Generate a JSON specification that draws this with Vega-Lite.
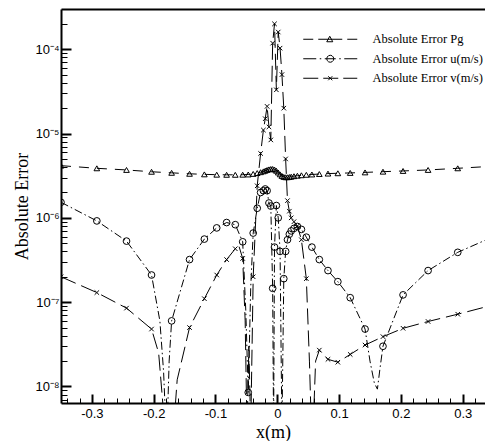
{
  "$schema": "https://vega.github.io/schema/vega-lite/v6.json",
  "width": 424,
  "height": 394,
  "autosize": {"type": "none"},
  "padding": {"left": 61, "top": 9, "right": 0, "bottom": 38},
  "background": "white",
  "config": {
    "view": {"stroke": null},
    "axis": {
      "domainColor": "black", "domainWidth": 2, "tickColor": "black",
      "labelColor": "black", "titleColor": "black", "grid": false,
      "labelFont": "Liberation Sans", "labelFontSize": 13,
      "titleFont": "Liberation Serif", "titleFontSize": 18, "titleFontWeight": "normal"
    }
  },
  "data": {"values": [
    {"s":"Pg","x":-0.35,"y":4.16e-6,"m":1},
    {"s":"Pg","x":-0.292,"y":3.87e-6,"m":1},
    {"s":"Pg","x":-0.244,"y":3.70e-6,"m":1},
    {"s":"Pg","x":-0.2035,"y":3.52e-6,"m":1},
    {"s":"Pg","x":-0.171,"y":3.42e-6,"m":1},
    {"s":"Pg","x":-0.142,"y":3.33e-6,"m":1},
    {"s":"Pg","x":-0.118,"y":3.28e-6,"m":1},
    {"s":"Pg","x":-0.098,"y":3.25e-6,"m":1},
    {"s":"Pg","x":-0.082,"y":3.24e-6,"m":1},
    {"s":"Pg","x":-0.068,"y":3.24e-6,"m":1},
    {"s":"Pg","x":-0.056,"y":3.25e-6,"m":1},
    {"s":"Pg","x":-0.047,"y":3.27e-6,"m":1},
    {"s":"Pg","x":-0.039,"y":3.32e-6,"m":1},
    {"s":"Pg","x":-0.0325,"y":3.40e-6,"m":1},
    {"s":"Pg","x":-0.027,"y":3.48e-6,"m":1},
    {"s":"Pg","x":-0.0225,"y":3.56e-6,"m":1},
    {"s":"Pg","x":-0.0195,"y":3.63e-6,"m":1},
    {"s":"Pg","x":-0.0165,"y":3.70e-6,"m":1},
    {"s":"Pg","x":-0.0135,"y":3.76e-6,"m":1},
    {"s":"Pg","x":-0.0105,"y":3.80e-6,"m":1},
    {"s":"Pg","x":-0.0075,"y":3.80e-6,"m":1},
    {"s":"Pg","x":-0.0045,"y":3.74e-6,"m":1},
    {"s":"Pg","x":-0.0015,"y":3.62e-6,"m":1},
    {"s":"Pg","x":0.0015,"y":3.45e-6,"m":1},
    {"s":"Pg","x":0.0045,"y":3.28e-6,"m":1},
    {"s":"Pg","x":0.0075,"y":3.14e-6,"m":1},
    {"s":"Pg","x":0.0105,"y":3.06e-6,"m":1},
    {"s":"Pg","x":0.0135,"y":3.03e-6,"m":1},
    {"s":"Pg","x":0.0165,"y":3.03e-6,"m":1},
    {"s":"Pg","x":0.0195,"y":3.05e-6,"m":1},
    {"s":"Pg","x":0.0225,"y":3.08e-6,"m":1},
    {"s":"Pg","x":0.027,"y":3.12e-6,"m":1},
    {"s":"Pg","x":0.0325,"y":3.16e-6,"m":1},
    {"s":"Pg","x":0.039,"y":3.20e-6,"m":1},
    {"s":"Pg","x":0.047,"y":3.24e-6,"m":1},
    {"s":"Pg","x":0.056,"y":3.27e-6,"m":1},
    {"s":"Pg","x":0.068,"y":3.31e-6,"m":1},
    {"s":"Pg","x":0.082,"y":3.35e-6,"m":1},
    {"s":"Pg","x":0.098,"y":3.38e-6,"m":1},
    {"s":"Pg","x":0.118,"y":3.41e-6,"m":1},
    {"s":"Pg","x":0.142,"y":3.46e-6,"m":1},
    {"s":"Pg","x":0.171,"y":3.53e-6,"m":1},
    {"s":"Pg","x":0.2035,"y":3.60e-6,"m":1},
    {"s":"Pg","x":0.244,"y":3.70e-6,"m":1},
    {"s":"Pg","x":0.292,"y":3.87e-6,"m":1},
    {"s":"Pg","x":0.35,"y":4.10e-6,"m":1},

    {"s":"u(m/s)","x":-0.35,"y":1.53e-6,"m":1},
    {"s":"u(m/s)","x":-0.292,"y":9.2e-7,"m":1},
    {"s":"u(m/s)","x":-0.244,"y":5.3e-7,"m":1},
    {"s":"u(m/s)","x":-0.2035,"y":2.1e-7,"m":1},
    {"s":"u(m/s)","x":-0.19,"y":6e-8,"m":0},
    {"s":"u(m/s)","x":-0.184,"y":1.5e-8,"m":0},
    {"s":"u(m/s)","x":-0.179,"y":2e-9,"m":0},
    {"s":"u(m/s)","x":-0.175,"y":2e-8,"m":0},
    {"s":"u(m/s)","x":-0.171,"y":6e-8,"m":1},
    {"s":"u(m/s)","x":-0.142,"y":3.2e-7,"m":1},
    {"s":"u(m/s)","x":-0.118,"y":5.6e-7,"m":1},
    {"s":"u(m/s)","x":-0.098,"y":7.6e-7,"m":1},
    {"s":"u(m/s)","x":-0.082,"y":8.8e-7,"m":1},
    {"s":"u(m/s)","x":-0.068,"y":8.3e-7,"m":1},
    {"s":"u(m/s)","x":-0.056,"y":5.2e-7,"m":1},
    {"s":"u(m/s)","x":-0.051,"y":8e-8,"m":0},
    {"s":"u(m/s)","x":-0.047,"y":8.5e-9,"m":1},
    {"s":"u(m/s)","x":-0.043,"y":1.5e-7,"m":0},
    {"s":"u(m/s)","x":-0.039,"y":6.6e-7,"m":1},
    {"s":"u(m/s)","x":-0.0325,"y":1.3e-6,"m":1},
    {"s":"u(m/s)","x":-0.027,"y":2.0e-6,"m":1},
    {"s":"u(m/s)","x":-0.0225,"y":2.1e-6,"m":1},
    {"s":"u(m/s)","x":-0.0195,"y":2.2e-6,"m":1},
    {"s":"u(m/s)","x":-0.0165,"y":2.1e-6,"m":1},
    {"s":"u(m/s)","x":-0.0135,"y":1.5e-6,"m":1},
    {"s":"u(m/s)","x":-0.0105,"y":1.38e-6,"m":1},
    {"s":"u(m/s)","x":-0.0075,"y":1.46e-7,"m":1},
    {"s":"u(m/s)","x":-0.006,"y":3e-9,"m":0},
    {"s":"u(m/s)","x":-0.0045,"y":4.5e-7,"m":1},
    {"s":"u(m/s)","x":-0.0015,"y":1.4e-6,"m":1},
    {"s":"u(m/s)","x":0.0015,"y":1.0e-6,"m":1},
    {"s":"u(m/s)","x":0.0045,"y":4e-7,"m":1},
    {"s":"u(m/s)","x":0.0075,"y":3e-9,"m":0},
    {"s":"u(m/s)","x":0.0105,"y":1.9e-7,"m":1},
    {"s":"u(m/s)","x":0.0135,"y":4e-7,"m":1},
    {"s":"u(m/s)","x":0.0165,"y":5.5e-7,"m":1},
    {"s":"u(m/s)","x":0.0195,"y":6.4e-7,"m":1},
    {"s":"u(m/s)","x":0.0225,"y":7.0e-7,"m":1},
    {"s":"u(m/s)","x":0.027,"y":7.5e-7,"m":1},
    {"s":"u(m/s)","x":0.0325,"y":7.9e-7,"m":1},
    {"s":"u(m/s)","x":0.039,"y":7.3e-7,"m":1},
    {"s":"u(m/s)","x":0.047,"y":5.9e-7,"m":1},
    {"s":"u(m/s)","x":0.056,"y":4.5e-7,"m":1},
    {"s":"u(m/s)","x":0.068,"y":3.2e-7,"m":1},
    {"s":"u(m/s)","x":0.082,"y":2.37e-7,"m":1},
    {"s":"u(m/s)","x":0.098,"y":1.75e-7,"m":1},
    {"s":"u(m/s)","x":0.118,"y":1.13e-7,"m":1},
    {"s":"u(m/s)","x":0.142,"y":4.8e-8,"m":1},
    {"s":"u(m/s)","x":0.150,"y":2e-8,"m":0},
    {"s":"u(m/s)","x":0.157,"y":1.1e-8,"m":0},
    {"s":"u(m/s)","x":0.162,"y":9.3e-9,"m":0},
    {"s":"u(m/s)","x":0.166,"y":1.6e-8,"m":0},
    {"s":"u(m/s)","x":0.171,"y":3.0e-8,"m":1},
    {"s":"u(m/s)","x":0.2035,"y":1.22e-7,"m":1},
    {"s":"u(m/s)","x":0.244,"y":2.37e-7,"m":1},
    {"s":"u(m/s)","x":0.292,"y":3.9e-7,"m":1},
    {"s":"u(m/s)","x":0.35,"y":6e-7,"m":1},

    {"s":"v(m/s)","x":-0.35,"y":2.0e-7,"m":1},
    {"s":"v(m/s)","x":-0.292,"y":1.3e-7,"m":1},
    {"s":"v(m/s)","x":-0.244,"y":8.5e-8,"m":1},
    {"s":"v(m/s)","x":-0.2035,"y":4.8e-8,"m":1},
    {"s":"v(m/s)","x":-0.192,"y":2.5e-8,"m":0},
    {"s":"v(m/s)","x":-0.185,"y":6e-9,"m":0},
    {"s":"v(m/s)","x":-0.178,"y":2e-9,"m":0},
    {"s":"v(m/s)","x":-0.168,"y":3e-9,"m":0},
    {"s":"v(m/s)","x":-0.162,"y":1.2e-8,"m":0},
    {"s":"v(m/s)","x":-0.142,"y":5.0e-8,"m":1},
    {"s":"v(m/s)","x":-0.118,"y":1.1e-7,"m":1},
    {"s":"v(m/s)","x":-0.098,"y":2.1e-7,"m":1},
    {"s":"v(m/s)","x":-0.082,"y":3.2e-7,"m":1},
    {"s":"v(m/s)","x":-0.068,"y":4.3e-7,"m":1},
    {"s":"v(m/s)","x":-0.062,"y":4.6e-7,"m":0},
    {"s":"v(m/s)","x":-0.056,"y":3.3e-7,"m":1},
    {"s":"v(m/s)","x":-0.052,"y":6e-8,"m":0},
    {"s":"v(m/s)","x":-0.049,"y":3e-9,"m":0},
    {"s":"v(m/s)","x":-0.046,"y":3e-8,"m":0},
    {"s":"v(m/s)","x":-0.043,"y":3e-9,"m":0},
    {"s":"v(m/s)","x":-0.039,"y":2e-7,"m":1},
    {"s":"v(m/s)","x":-0.0325,"y":2.4e-6,"m":1},
    {"s":"v(m/s)","x":-0.027,"y":5.8e-6,"m":1},
    {"s":"v(m/s)","x":-0.0225,"y":1.1e-5,"m":1},
    {"s":"v(m/s)","x":-0.0195,"y":1.5e-5,"m":1},
    {"s":"v(m/s)","x":-0.0165,"y":2.1e-5,"m":1},
    {"s":"v(m/s)","x":-0.0135,"y":1.2e-5,"m":1},
    {"s":"v(m/s)","x":-0.0105,"y":8.4e-6,"m":1},
    {"s":"v(m/s)","x":-0.0075,"y":1.18e-4,"m":1},
    {"s":"v(m/s)","x":-0.0045,"y":2.0e-4,"m":1},
    {"s":"v(m/s)","x":-0.0015,"y":3.3e-5,"m":1},
    {"s":"v(m/s)","x":0.0015,"y":1.6e-4,"m":1},
    {"s":"v(m/s)","x":0.0045,"y":1.03e-4,"m":1},
    {"s":"v(m/s)","x":0.0075,"y":5e-5,"m":1},
    {"s":"v(m/s)","x":0.0105,"y":2e-5,"m":1},
    {"s":"v(m/s)","x":0.0135,"y":5e-6,"m":1},
    {"s":"v(m/s)","x":0.0165,"y":1.6e-6,"m":1},
    {"s":"v(m/s)","x":0.0195,"y":1.2e-6,"m":1},
    {"s":"v(m/s)","x":0.0225,"y":1.0e-6,"m":1},
    {"s":"v(m/s)","x":0.027,"y":9e-7,"m":1},
    {"s":"v(m/s)","x":0.0325,"y":8e-7,"m":1},
    {"s":"v(m/s)","x":0.039,"y":5.5e-7,"m":1},
    {"s":"v(m/s)","x":0.047,"y":1.9e-7,"m":1},
    {"s":"v(m/s)","x":0.052,"y":2e-8,"m":0},
    {"s":"v(m/s)","x":0.056,"y":2e-9,"m":0},
    {"s":"v(m/s)","x":0.059,"y":5e-9,"m":0},
    {"s":"v(m/s)","x":0.062,"y":2e-8,"m":0},
    {"s":"v(m/s)","x":0.068,"y":2.7e-8,"m":1},
    {"s":"v(m/s)","x":0.082,"y":2.1e-8,"m":1},
    {"s":"v(m/s)","x":0.098,"y":1.94e-8,"m":1},
    {"s":"v(m/s)","x":0.118,"y":2.4e-8,"m":1},
    {"s":"v(m/s)","x":0.142,"y":3.1e-8,"m":1},
    {"s":"v(m/s)","x":0.171,"y":3.9e-8,"m":1},
    {"s":"v(m/s)","x":0.2035,"y":4.9e-8,"m":1},
    {"s":"v(m/s)","x":0.244,"y":5.9e-8,"m":1},
    {"s":"v(m/s)","x":0.292,"y":7.2e-8,"m":1},
    {"s":"v(m/s)","x":0.35,"y":9.3e-8,"m":1}
  ]},
  "resolve": {"axis": {"x": "independent"}},
  "encoding": {
    "y": {
      "field": "y", "type": "quantitative",
      "scale": {"type": "log", "domain": [6.37e-9, 3.0e-4], "nice": false},
      "axis": {
        "title": "Absolute Error",
        "values": [7e-9,8e-9,9e-9,1e-8,2e-8,3e-8,4e-8,5e-8,6e-8,7e-8,8e-8,9e-8,1e-7,2e-7,3e-7,4e-7,5e-7,6e-7,7e-7,8e-7,9e-7,1e-6,2e-6,3e-6,4e-6,5e-6,6e-6,7e-6,8e-6,9e-6,1e-5,2e-5,3e-5,4e-5,5e-5,6e-5,7e-5,8e-5,9e-5,1e-4,2e-4],
        "labelExpr": "abs(log(datum.value)/LN10 - round(log(datum.value)/LN10)) < 0.01 ? (round(log(datum.value)/LN10) == -4 ? '10⁻⁴' : round(log(datum.value)/LN10) == -5 ? '10⁻⁵' : round(log(datum.value)/LN10) == -6 ? '10⁻⁶' : round(log(datum.value)/LN10) == -7 ? '10⁻⁷' : '10⁻⁸') : ''",
        "labelOverlap": false, "labelFlush": false,
        "tickSize": {"condition": {"test": "abs(log(datum.value)/LN10 - round(log(datum.value)/LN10)) < 0.01", "value": -10}, "value": -6},
        "tickWidth": {"condition": {"test": "abs(log(datum.value)/LN10 - round(log(datum.value)/LN10)) < 0.01", "value": 2}, "value": 1},
        "labelPadding": 12,
        "titlePadding": 3
      }
    }
  },
  "layer": [
    {
      "mark": {"type": "line", "color": "black", "strokeWidth": 1, "clip": true},
      "encoding": {
        "x": {
          "field": "x", "type": "quantitative",
          "scale": {"domain": [-0.35, 0.3361], "nice": false, "zero": false},
          "axis": {
            "title": "x(m)",
            "values": [-0.34,-0.32,-0.3,-0.28,-0.26,-0.24,-0.22,-0.2,-0.18,-0.16,-0.14,-0.12,-0.1,-0.08,-0.06,-0.04,-0.02,0,0.02,0.04,0.06,0.08,0.1,0.12,0.14,0.16,0.18,0.2,0.22,0.24,0.26,0.28,0.3,0.32],
            "labelExpr": "abs(datum.value*10 - round(datum.value*10)) < 0.001 ? replace(format(datum.value, '~g'), '\u2212', '-') : ''",
            "labelOverlap": false, "labelFlush": false,
            "tickSize": {"condition": {"test": "abs(datum.value*10 - round(datum.value*10)) < 0.001", "value": -9}, "value": -5},
            "tickWidth": {"condition": {"test": "abs(datum.value*10 - round(datum.value*10)) < 0.001", "value": 2}, "value": 1},
            "labelPadding": 13,
            "titlePadding": -1
          }
        },
        "strokeDash": {
          "field": "s", "type": "nominal",
          "scale": {"range": [[10, 8], [8, 3, 1.5, 3], [16, 6]]},
          "legend": null
        }
      }
    },
    {
      "transform": [{"filter": "datum.s == 'Pg' && datum.m == 1"}],
      "mark": {"type": "point", "shape": "triangle-up", "size": 32, "filled": false, "stroke": "black", "strokeWidth": 1, "opacity": 1, "clip": true},
      "encoding": {
        "x": {"field": "x", "type": "quantitative", "axis": {"orient": "top", "labels": false, "ticks": false, "title": null, "domainWidth": 2, "domainColor": "black"}}
      }
    },
    {
      "transform": [{"filter": "datum.s == 'u(m/s)' && datum.m == 1"}],
      "mark": {"type": "point", "shape": "circle", "size": 45, "filled": false, "stroke": "black", "strokeWidth": 1, "opacity": 1, "clip": true},
      "encoding": {
        "x": {"field": "x", "type": "quantitative", "axis": null}
      }
    },
    {
      "transform": [{"filter": "datum.s == 'v(m/s)' && datum.m == 1"}],
      "mark": {"type": "point", "shape": "M-1,-1L1,1M-1,1L1,-1", "size": 20, "filled": false, "stroke": "black", "strokeWidth": 1, "opacity": 1, "clip": true},
      "encoding": {
        "x": {"field": "x", "type": "quantitative", "axis": null}
      }
    },
    {
      "transform": [{"filter": "datum.x == -0.35"}],
      "mark": {"type": "point", "filled": false, "stroke": "black", "strokeWidth": 1, "size": 0, "clip": true},
      "encoding": {
        "x": {"field": "x", "type": "quantitative", "axis": null},
        "shape": {
          "field": "s", "type": "nominal",
          "scale": {
            "domain": ["Pg", "u(m/s)", "v(m/s)"],
            "range": [
              "M-1,0L1,0M2,0L6.8,0M7.8,0L9.8,0M4.3,-0.6L4.9,0.5L3.7,0.5Z",
              "M-1,0L1.6,0M2.3,0L2.6,0M3.3,0L5.5,0M6.2,0L6.5,0M7.2,0L9.8,0M5.1,0L5.006,0.35L4.75,0.606L4.4,0.7L4.05,0.606L3.794,0.35L3.7,0L3.794,-0.35L4.05,-0.606L4.4,-0.7L4.75,-0.606L5.006,-0.35Z",
              "M-1,0L2,0M3,0L6,0M7,0L9.8,0M4,-0.4L4.8,0.4M4,0.4L4.8,-0.4"
            ]
          },
          "legend": {
            "title": null, "orient": "none", "legendX": 241, "legendY": 24, "padding": 0,
            "labelFont": "Liberation Serif", "labelFontSize": 12.5, "labelColor": "black",
            "labelOffset": 58, "rowPadding": 6.5, "symbolSize": 100,
            "symbolOpacity": 1, "symbolStrokeColor": "black", "symbolFillColor": "transparent",
            "symbolStrokeWidth": 1,
            "labelExpr": "'Absolute Error ' + datum.label"
          }
        }
      }
    }
  ]
}
